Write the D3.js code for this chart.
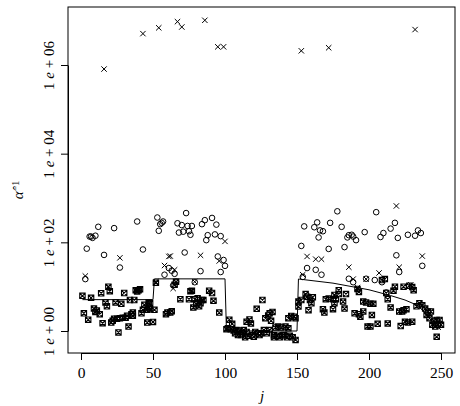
<!DOCTYPE html>
<html>
<head>
<meta charset="utf-8">
<script src="https://cdn.jsdelivr.net/npm/d3@7"></script>
<style>
  body { margin: 0; background: #fff; }
  svg { display: block; }
  text { font-family: "Liberation Serif", "Times New Roman", serif; fill: #000; }
</style>
</head>
<body>
<svg id="chart" width="460" height="406"></svg>
<script>
// tick values / labels
var xTicks = [0, 50, 100, 150, 200, 250];
var yTicks = [1, 1e2, 1e4, 1e6];
var yTickExp = ['00', '02', '04', '06'];

// boxed crosses: [j, value]
var squarePts = [
  [1, 6.2], [2, 2.5], [5, 1.8], [7, 5.6], [9, 3.2], [10, 2.7], [11, 2.9], [13, 2.4], [14, 7.1], [15, 1.5],
  [17, 4.4], [18, 3.6], [19, 10], [20, 7.9], [21, 1.55], [22, 1.7], [23, 1.9], [24, 4.4], [25, 1.9], [26, 0.93],
  [27, 1.95], [28, 4.1], [29, 2.0], [30, 7.2], [31, 2.0], [32, 2.2], [33, 1.26], [34, 5.0], [35, 2.4], [36, 2.6],
  [36, 2.2], [37, 5.0], [38, 8.3], [39, 7.8], [40, 8.3], [41, 8.7], [42, 2.5], [43, 3.0], [44, 3.9], [46, 1.55],
  [46, 3.0], [47, 4.4], [47, 3.5], [48, 4.2], [48, 3.1], [50, 1.6], [51, 3.0], [52, 12.3],
  [59, 2.4], [60, 2.6], [62, 2.6], [63, 2.8], [65, 11], [66, 12.9], [69, 5.2], [75, 5.2], [76, 7.9], [77, 8.1],
  [78, 3.4], [79, 5.2], [80, 4.0], [81, 5.5], [82, 3.6], [83, 4.2], [84, 5.0], [85, 5.0], [89, 8.1], [91, 7.2],
  [92, 4.8], [96, 2.6],
  [101, 1.1], [102, 1.15], [103, 1.8], [104, 1.1], [105, 1.45], [106, 1.02], [107, 0.89], [108, 1.05], [109, 0.81],
  [110, 1.02], [111, 0.81], [112, 0.89], [113, 1.05], [114, 0.72], [115, 0.95], [115, 1.62], [116, 0.78], [117, 1.82],
  [118, 1.48], [119, 0.81], [120, 0.74], [121, 0.95], [122, 3.16], [123, 0.89], [124, 0.81], [125, 0.89], [126, 5.0],
  [127, 1.05], [128, 1.95], [129, 0.89], [130, 2.24], [131, 1.05], [131, 2.5], [132, 1.7], [133, 2.7], [134, 0.72],
  [134, 0.8], [135, 1.2], [136, 0.78], [137, 1.26], [138, 0.72], [139, 1.2], [140, 0.8], [141, 0.81], [142, 1.26],
  [143, 0.72], [144, 1.15], [144, 1.95], [145, 0.78], [146, 2.19], [147, 0.72], [148, 2.1], [149, 0.63], [149, 1.95],
  [151, 3.55], [151, 4.6], [153, 5.0], [156, 6.8], [157, 5.9], [158, 2.95], [159, 5.0], [160, 4.2], [161, 5.75],
  [168, 3.1], [169, 2.6], [170, 5.2], [172, 5.4], [175, 5.2], [175, 3.1], [176, 4.2], [176, 6.5], [177, 5.2],
  [179, 6.8], [179, 8.3], [182, 4.6], [183, 3.2], [184, 6.8], [190, 2.5], [192, 8.9], [193, 7.6], [193, 2.4],
  [194, 2.1], [196, 2.75], [196, 4.6], [198, 4.4], [199, 1.26], [201, 4.1], [201, 1.26], [202, 2.3], [203, 4.1],
  [206, 1.45], [209, 14.1], [211, 14.8], [212, 7.2], [213, 5.2], [213, 1.48], [215, 3.4], [217, 8.1], [218, 10],
  [221, 2.75], [222, 1.29], [223, 2.75], [224, 10], [224, 2.95], [225, 1.62], [226, 3.1], [227, 1.55], [228, 10.5],
  [230, 9.8], [230, 1.62], [231, 8.3], [233, 3.6], [235, 4.2], [237, 3.8], [239, 3.2], [240, 2.3], [241, 2.75],
  [242, 1.95], [243, 2.75], [244, 1.38], [245, 1.7], [246, 1.26], [247, 1.78], [247, 0.74], [248, 1.38],
  [249, 1.78], [250, 1.38]
];

// open circles: [j, value]
var circlePts = [
  [3, 14.8], [4, 72], [6, 135], [7, 135], [8, 126], [10, 141], [12, 224], [16, 52], [23, 209], [27, 27],
  [39, 295], [40, 8.5], [43, 69],
  [53, 363], [54, 182], [55, 257], [56, 275], [57, 295], [58, 18.6], [61, 26.3], [63, 22.9], [64, 10.7],
  [65, 19.5], [66, 12.9], [67, 269], [68, 166], [70, 245], [71, 174], [72, 59], [73, 457], [74, 234],
  [75, 178], [76, 148], [77, 234], [79, 12.6], [83, 22.4], [84, 257], [86, 316], [87, 112], [88, 145],
  [91, 355], [93, 151], [94, 251], [95, 48], [97, 21.4], [97, 138], [99, 40], [100, 29.5],
  [153, 83], [154, 16.6], [155, 229], [157, 26.3], [162, 219], [163, 24], [164, 282], [165, 129], [166, 186],
  [167, 18.6], [168, 178], [172, 71], [173, 275], [178, 501], [181, 224], [183, 78], [185, 129], [186, 145],
  [188, 148], [189, 135], [191, 112], [186, 15.1], [189, 12.6], [197, 170], [198, 15.1], [204, 14.1],
  [205, 479], [208, 132], [209, 12.6], [210, 162], [212, 7.4], [215, 204], [218, 275], [219, 51], [220, 126],
  [221, 21.4], [227, 148], [232, 141], [234, 186], [236, 162], [237, 29.5]
];

// crosses: [j, value]
var crossPts = [
  [3, 17.4], [16, 8.1e5], [19, 9.8], [27, 44.7], [39, 8.3], [43, 5.1e6], [52, 12.9], [54, 6.9e6], [58, 30],
  [61, 48], [62, 49], [64, 9.1], [65, 24], [67, 9.5e6], [70, 7.2e6], [79, 12.9], [83, 51], [86, 1.02e7],
  [95, 2.57e6], [96, 38], [99, 2.57e6], [100, 105],
  [153, 2.09e6], [154, 18.6], [157, 48], [163, 41.7], [167, 41.7], [172, 2.45e6], [186, 27.5], [189, 14.8],
  [192, 9.5], [198, 14.8], [207, 20.4], [219, 661], [221, 27.5], [229, 11], [231, 8.3], [232, 6.3e6], [237, 49]
];

// reference curve
var lineJ = [1, 50, 51, 100, 101, 150, 151, 175, 200, 215, 225, 232, 236, 240, 244, 247, 250];
var lineVal = [5.1, 5.1, 15, 15, 1.0, 1.0, 14.9, 12, 8.5, 6.3, 5.0, 4.0, 3.2, 2.3, 1.6, 1.26, 1.07];

var svg = d3.select('#chart');
var box = {left: 68, top: 7, right: 455, bottom: 353};

var x = d3.scaleLinear().domain([0, 250]).range([81, 441]);
var y = d3.scaleLog().domain([1, 1e6]).range([331, 65]);

// x axis
var xAxis = svg.append('g')
  .attr('transform', 'translate(0,' + box.bottom + ')')
  .call(d3.axisBottom(x).tickValues(xTicks).tickSize(7).tickSizeOuter(0).tickFormat(d3.format('d')));
xAxis.selectAll('text')
  .attr('y', 25)
  .attr('dy', 0)
  .style('font-size', '15.5px')
  .style('font-family', '"Liberation Serif", serif');

// y axis, rotated labels "1 e + 0k"
var yAxis = svg.append('g')
  .attr('transform', 'translate(' + box.left + ',0)')
  .call(d3.axisLeft(y).tickValues(yTicks).tickSize(7).tickSizeOuter(0).tickFormat(''));
yAxis.selectAll('.tick').each(function(d, i) {
  var t = d3.select(this).append('text')
    .attr('transform', 'translate(-14.5,0) rotate(-90)')
    .attr('text-anchor', 'middle')
    .style('font-size', '15px')
    .attr('fill', '#000');
  t.append('tspan').text('1 ');
  t.append('tspan').style('font-style', 'italic').text('e');
  t.append('tspan').text(' + ' + yTickExp[i]);
});
svg.selectAll('.domain, .tick line').attr('stroke', '#000');

// plot box
svg.append('rect')
  .attr('x', box.left).attr('y', box.top)
  .attr('width', box.right - box.left).attr('height', box.bottom - box.top)
  .attr('fill', 'none').attr('stroke', '#000').attr('stroke-width', 1);

// line
var line = d3.line()
  .x(function(d) { return x(d[0]); })
  .y(function(d) { return y(d[1]); });
svg.append('path')
  .datum(d3.zip(lineJ, lineVal))
  .attr('d', line)
  .attr('fill', 'none')
  .attr('stroke', '#000')
  .attr('stroke-width', 1);

var s = 2.7;
var pts = svg.append('g').attr('fill', 'none').attr('stroke', '#000').attr('stroke-width', 1);

pts.selectAll('path.sq')
  .data(squarePts)
  .enter().append('path')
    .attr('class', 'sq')
    .attr('stroke-width', 1.1)
    .attr('transform', function(d) { return 'translate(' + x(d[0]) + ',' + y(d[1]) + ')'; })
    .attr('d', 'M' + -s + ',' + -s + 'H' + s + 'V' + s + 'H' + -s + 'Z' +
               'M' + -s + ',' + -s + 'L' + s + ',' + s + 'M' + -s + ',' + s + 'L' + s + ',' + -s);

pts.selectAll('circle')
  .data(circlePts)
  .enter().append('circle')
    .attr('cx', function(d) { return x(d[0]); })
    .attr('cy', function(d) { return y(d[1]); })
    .attr('r', 2.8);

pts.selectAll('path.cr')
  .data(crossPts)
  .enter().append('path')
    .attr('class', 'cr')
    .attr('transform', function(d) { return 'translate(' + x(d[0]) + ',' + y(d[1]) + ')'; })
    .attr('d', 'M' + -s + ',' + -s + 'L' + s + ',' + s + 'M' + -s + ',' + s + 'L' + s + ',' + -s);

// axis titles
svg.append('text')
  .attr('x', 262).attr('y', 401)
  .attr('text-anchor', 'middle')
  .style('font-size', '15px').style('font-style', 'italic')
  .text('j');

var yl = svg.append('text')
  .attr('transform', 'translate(23,190) rotate(-90)')
  .attr('text-anchor', 'middle')
  .style('font-size', '15px');
yl.append('tspan').style('font-style', 'italic').text('\u03b1\u0302');
yl.append('tspan').attr('dy', '-0.45em').style('font-size', '10px').text('\u22121');
</script>
</body>
</html>
